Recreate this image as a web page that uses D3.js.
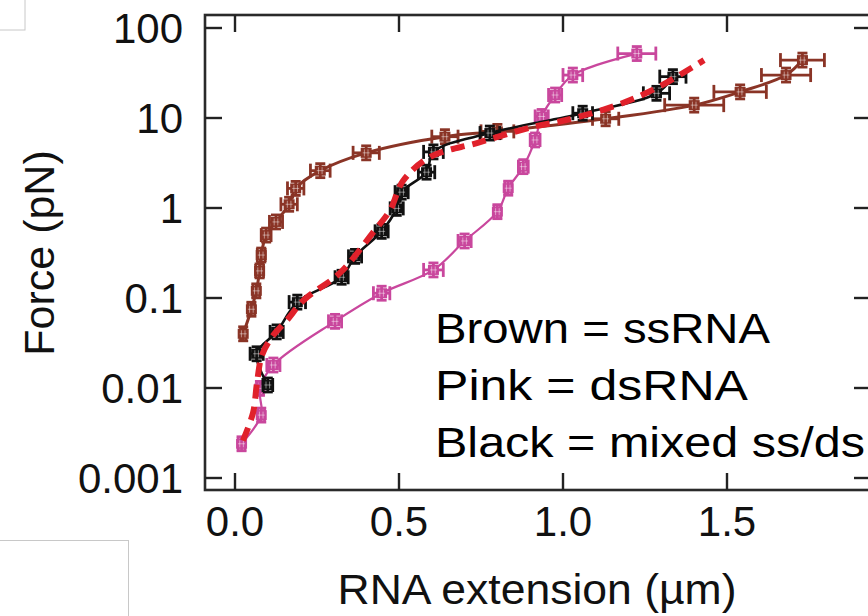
<!DOCTYPE html>
<html>
<head>
<meta charset="utf-8">
<script src="https://cdn.jsdelivr.net/npm/d3@7"></script>
<style>
  body { margin: 0; background: #fff; }
  svg { display: block; font-family: "Liberation Sans", Arial, sans-serif; }
</style>
</head>
<body>
<div class="container"></div>
<script>
let width = 868
let height = 616

// ssRNA (brown)
const ssX = [0.025, 0.05, 0.065, 0.075, 0.08, 0.095, 0.125, 0.165, 0.185, 0.26, 0.40, 0.64, 0.80, 1.13, 1.40, 1.54, 1.68, 1.73]
const ssF = [0.04, 0.075, 0.12, 0.2, 0.3, 0.5, 0.7, 1.1, 1.65, 2.6, 4.1, 6.2, 7.1, 9.8, 13.9, 19.5, 30, 44]
const ssErr = [0.008, 0.01, 0.01, 0.012, 0.012, 0.015, 0.02, 0.025, 0.025, 0.03, 0.04, 0.04, 0.05, 0.04, 0.09, 0.08, 0.075, 0.067]

// dsRNA (pink)
const dsX = [0.02, 0.08, 0.076, 0.117, 0.305, 0.447, 0.605, 0.70, 0.80, 0.833, 0.879, 0.915, 0.935, 0.976, 1.03, 1.225]
const dsF = [0.0024, 0.005, 0.0099, 0.018, 0.055, 0.113, 0.205, 0.43, 0.91, 1.66, 2.88, 5.7, 10.4, 18, 30, 52]
const dsErr = [0.01, 0.01, 0.01, 0.02, 0.02, 0.025, 0.03, 0.02, 0.01, 0.01, 0.015, 0.015, 0.02, 0.02, 0.03, 0.058]

// mixed ss/ds (black)
const mxX = [0.10, 0.066, 0.127, 0.19, 0.325, 0.366, 0.447, 0.493, 0.508, 0.584, 0.605, 0.777, 1.06, 1.285, 1.335]
const mxF = [0.0108, 0.024, 0.042, 0.09, 0.17, 0.29, 0.55, 0.99, 1.5, 2.5, 4.2, 6.8, 11.3, 18.8, 28.8]
const mxErr = [0.015, 0.02, 0.02, 0.025, 0.02, 0.02, 0.02, 0.02, 0.02, 0.025, 0.03, 0.03, 0.03, 0.04, 0.04]

// fit (red dashed)
const fitX = [0.024, 0.055, 0.067, 0.082, 0.113, 0.159, 0.21, 0.32, 0.42, 0.473, 0.512, 0.595, 0.74, 0.91, 1.01, 1.165, 1.29, 1.43]
const fitF = [0.0026, 0.0053, 0.0114, 0.023, 0.037, 0.057, 0.095, 0.19, 0.53, 0.95, 2.0, 3.7, 5.3, 8.0, 9.5, 13.9, 22, 44]

const xTicks = [0, 0.5, 1.0, 1.5]
const yTicks = [0.001, 0.01, 0.1, 1, 10, 100]
const yLabels = ['0.001', '0.01', '0.1', '1', '10', '100']
const legendLines = ['Brown = ssRNA', 'Pink = dsRNA', 'Black = mixed ss/ds']

let box = { left: 205, right: 871, top: 15, bottom: 490 }

let svg = d3.select('.container')
    .append('svg')
    .attr('width', width)
    .attr('height', height)

let xScale = d3.scaleLinear()
    .domain([0, 1.5])
    .range([235, 727])

let yScale = d3.scaleLog()
    .domain([0.001, 100])
    .range([478, 28])

// stray screenshot frames
svg.append('rect').attr('x', -2).attr('y', -2).attr('width', 27).attr('height', 32)
    .attr('fill', 'none').attr('stroke', '#c8c8c8').attr('stroke-width', 1)
svg.append('rect').attr('x', -2).attr('y', 540.5).attr('width', 130.5).attr('height', 80)
    .attr('fill', 'none').attr('stroke', '#c8c8c8').attr('stroke-width', 1)

function series(xs, fs, errs, colour, lw) {
    let pts = xs.map((x, i) => ({ x: x, f: fs[i], e: errs[i] }))
    let g = svg.append('g')
    let line = d3.line()
        .x((d) => xScale(d.x))
        .y((d) => yScale(d.f))
        .curve(d3.curveCatmullRom)
    g.append('path')
        .datum(pts)
        .attr('d', line)
        .attr('fill', 'none')
        .attr('stroke', colour)
        .attr('stroke-width', lw)

    let m = g.selectAll('g.pt')
        .data(pts)
        .enter()
        .append('g')
        .attr('class', 'pt')
        .attr('stroke', colour)
        .attr('stroke-width', 2.8)
    // horizontal error bars
    m.append('line')
        .attr('x1', (d) => xScale(d.x - d.e))
        .attr('x2', (d) => xScale(d.x + d.e))
        .attr('y1', (d) => yScale(d.f))
        .attr('y2', (d) => yScale(d.f))
    m.append('line')
        .attr('x1', (d) => xScale(d.x - d.e))
        .attr('x2', (d) => xScale(d.x - d.e))
        .attr('y1', (d) => yScale(d.f) - 7)
        .attr('y2', (d) => yScale(d.f) + 7)
    m.append('line')
        .attr('x1', (d) => xScale(d.x + d.e))
        .attr('x2', (d) => xScale(d.x + d.e))
        .attr('y1', (d) => yScale(d.f) - 7)
        .attr('y2', (d) => yScale(d.f) + 7)
    // small vertical error bars
    m.append('line')
        .attr('x1', (d) => xScale(d.x))
        .attr('x2', (d) => xScale(d.x))
        .attr('y1', (d) => yScale(d.f) - 7)
        .attr('y2', (d) => yScale(d.f) + 7)
    m.append('line')
        .attr('x1', (d) => xScale(d.x) - 5)
        .attr('x2', (d) => xScale(d.x) + 5)
        .attr('y1', (d) => yScale(d.f) - 7)
        .attr('y2', (d) => yScale(d.f) - 7)
    m.append('line')
        .attr('x1', (d) => xScale(d.x) - 5)
        .attr('x2', (d) => xScale(d.x) + 5)
        .attr('y1', (d) => yScale(d.f) + 7)
        .attr('y2', (d) => yScale(d.f) + 7)
    // square marker
    m.append('rect')
        .attr('x', (d) => xScale(d.x) - 5.5)
        .attr('y', (d) => yScale(d.f) - 5)
        .attr('width', 11)
        .attr('height', 10)
        .attr('fill', colour)
        .attr('stroke', 'none')
    m.append('path')
        .attr('d', (d) => {
            let cx = xScale(d.x), cy = yScale(d.f)
            return `M${cx - 1.8},${cy - 3.5}V${cy + 3.5}M${cx + 1.8},${cy - 3.5}V${cy + 3.5}M${cx - 3.5},${cy}H${cx + 3.5}`
        })
        .attr('stroke', '#fff')
        .attr('stroke-opacity', 0.5)
        .attr('stroke-width', 0.9)
}

series(ssX, ssF, ssErr, '#8a3426', 3)
series(dsX, dsF, dsErr, '#c9479d', 2.2)
series(mxX, mxF, mxErr, '#111', 2.6)

let fitPts = fitX.map((x, i) => ({ x: x, f: fitF[i] }))
svg.append('path')
    .datum(fitPts)
    .attr('d', d3.line()
        .x((d) => xScale(d.x))
        .y((d) => yScale(d.f))
        .curve(d3.curveCatmullRom))
    .attr('fill', 'none')
    .attr('stroke', '#e0212b')
    .attr('stroke-width', 6)
    .attr('stroke-dasharray', '14,8')

// frame
svg.append('rect')
    .attr('x', box.left)
    .attr('y', box.top)
    .attr('width', box.right - box.left)
    .attr('height', box.bottom - box.top)
    .attr('fill', 'none')
    .attr('stroke', '#2a2a2a')
    .attr('stroke-width', 2.6)

let tickLen = 17
let ticks = svg.append('g').attr('stroke', '#222').attr('stroke-width', 2.4)
yTicks.forEach((t) => {
    ticks.append('line').attr('x1', box.left).attr('x2', box.left + tickLen)
        .attr('y1', yScale(t)).attr('y2', yScale(t))
    ticks.append('line').attr('x1', box.right).attr('x2', box.right - tickLen)
        .attr('y1', yScale(t)).attr('y2', yScale(t))
})
xTicks.forEach((t) => {
    ticks.append('line').attr('x1', xScale(t)).attr('x2', xScale(t))
        .attr('y1', box.bottom).attr('y2', box.bottom - tickLen)
    ticks.append('line').attr('x1', xScale(t)).attr('x2', xScale(t))
        .attr('y1', box.top).attr('y2', box.top + tickLen)
})

// tick labels
svg.selectAll('text.ylab')
    .data(yTicks)
    .enter()
    .append('text')
    .attr('class', 'ylab')
    .attr('x', 183)
    .attr('y', (d) => yScale(d) + 15)
    .attr('text-anchor', 'end')
    .attr('font-size', 42)
    .attr('fill', '#111')
    .text((d, i) => yLabels[i])

svg.selectAll('text.xlab')
    .data(xTicks)
    .enter()
    .append('text')
    .attr('class', 'xlab')
    .attr('x', (d) => xScale(d))
    .attr('y', 536)
    .attr('text-anchor', 'middle')
    .attr('font-size', 42)
    .attr('fill', '#111')
    .text((d) => d.toFixed(1))

svg.append('text')
    .attr('x', 537)
    .attr('y', 604)
    .attr('text-anchor', 'middle')
    .attr('font-size', 43)
    .attr('fill', '#111')
    .attr('textLength', 399)
    .attr('lengthAdjust', 'spacingAndGlyphs')
    .text('RNA extension (µm)')

svg.append('text')
    .attr('transform', 'translate(54,253) rotate(-90)')
    .attr('text-anchor', 'middle')
    .attr('font-size', 43)
    .attr('fill', '#111')
    .text('Force (pN)')

const legendW = [335, 313, 430]
svg.selectAll('text.leg')
    .data(legendLines)
    .enter()
    .append('text')
    .attr('class', 'leg')
    .attr('x', 435)
    .attr('y', (d, i) => 343 + i * 57)
    .attr('font-size', 42)
    .attr('fill', '#000')
    .attr('textLength', (d, i) => legendW[i])
    .attr('lengthAdjust', 'spacingAndGlyphs')
    .text((d) => d)
</script>
</body>
</html>
